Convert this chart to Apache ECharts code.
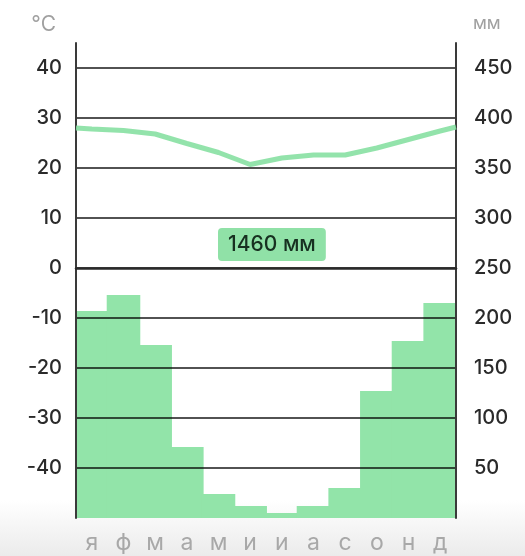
<!DOCTYPE html>
<html>
<head>
<meta charset="utf-8">
<script src="https://cdn.jsdelivr.net/npm/echarts@6/dist/echarts.min.js"></script>
<style>html,body{margin:0;padding:0;background:#fff}#c{width:525px;height:556px}</style>
</head>
<body>
<div id="c"></div>
<script>
var months = ['я','ф','м','а','м','и','и','а','с','о','н','д'];
var precip = [207, 223, 173, 71, 24, 12, 5, 12, 30, 127, 177, 215];
// temperature at month centres (position in months, °C)
var tempPos = [0, 0.5, 1.5, 2.5, 3.5, 4.5, 5.5, 6.5, 7.5, 8.5, 9.5, 10.5, 11.5, 12];
var tempVal = [28.0, 27.8, 27.5, 26.8, 24.9, 23.1, 20.7, 22.0, 22.6, 22.6, 24.0, 25.7, 27.4, 28.2];
var totalLabel = '1460 мм';
var tempTicks = {min: -50, max: 45, step: 10};
var precipTicks = {min: 0, max: 475, step: 50};

var font = 'Inter, "Noto Sans", sans-serif';
var chart = echarts.init(document.getElementById('c'));
chart.setOption({
  animation: false,
  backgroundColor: {
    type: 'linear', x: 0, y: 0, x2: 0, y2: 1,
    colorStops: [{offset: 0, color: '#ffffff'}, {offset: 0.9, color: '#ffffff'}, {offset: 1, color: '#ebebeb'}]
  },
  title: {
    text: totalLabel,
    left: 218, top: 228,
    padding: [6, 10, 6, 10],
    backgroundColor: 'rgba(125,220,152,0.85)',
    borderRadius: 4,
    textStyle: {fontFamily: font, fontSize: 21, fontWeight: 500, color: '#173020'}
  },
  grid: {left: 76, right: 69, top: 43, bottom: 38, containLabel: false},
  xAxis: [{
    type: 'category', data: months, boundaryGap: true,
    axisLine: {show: true, lineStyle: {color: '#2a2a2a', width: 2.5}},
    axisTick: {show: false},
    axisLabel: {fontFamily: font, fontSize: 23, color: '#a8a8a8', margin: 14},
    splitLine: {show: false},
    splitArea: {show: false},
    z: 5
  }, {
    type: 'value', min: 0, max: 12, show: false
  }],
  yAxis: [{
    type: 'value', position: 'left',
    min: tempTicks.min, max: tempTicks.max, interval: tempTicks.step,
    name: '°C', nameLocation: 'end', nameGap: 8,
    nameTextStyle: {fontFamily: font, fontSize: 21, color: '#a0a0a0', align: 'right', padding: [0, 20, 0, 0]},
    axisLine: {show: true, lineStyle: {color: '#3a3a3a', width: 2}},
    axisTick: {show: false},
    axisLabel: {fontFamily: font, fontSize: 20, fontWeight: 500, color: '#2a2a2a', margin: 14,
      formatter: function (v) { return (v === tempTicks.min || v === tempTicks.max) ? '' : String(v); }},
    splitLine: {show: true, showMinLine: false, showMaxLine: false, lineStyle: {color: 'rgba(0,0,0,0.68)', width: 2}},
    z: 5
  }, {
    type: 'value', position: 'right',
    min: precipTicks.min, max: precipTicks.max, interval: precipTicks.step,
    name: 'мм', nameLocation: 'end', nameGap: 10,
    nameTextStyle: {fontFamily: font, fontSize: 18, color: '#a0a0a0', align: 'left', padding: [0, 0, 0, 17]},
    axisLine: {show: true, lineStyle: {color: '#3a3a3a', width: 2}},
    axisTick: {show: false},
    axisLabel: {fontFamily: font, fontSize: 20, fontWeight: 500, color: '#2a2a2a', margin: 18,
      formatter: function (v) { return (v === precipTicks.min || v === precipTicks.max) ? '' : String(v); }},
    splitLine: {show: false},
    z: 5
  }],
  series: [{
    type: 'bar', xAxisIndex: 0, yAxisIndex: 1,
    data: precip, barWidth: '106%',
    itemStyle: {color: '#92e4a9'},
    z: 2
  }, {
    type: 'line', xAxisIndex: 1, yAxisIndex: 0,
    data: tempPos.map(function (p, i) { return [p, tempVal[i]]; }),
    symbol: 'none',
    lineStyle: {color: 'rgba(135,224,162,0.9)', width: 5},
    z: 8
  }]
});
</script>
</body>
</html>
